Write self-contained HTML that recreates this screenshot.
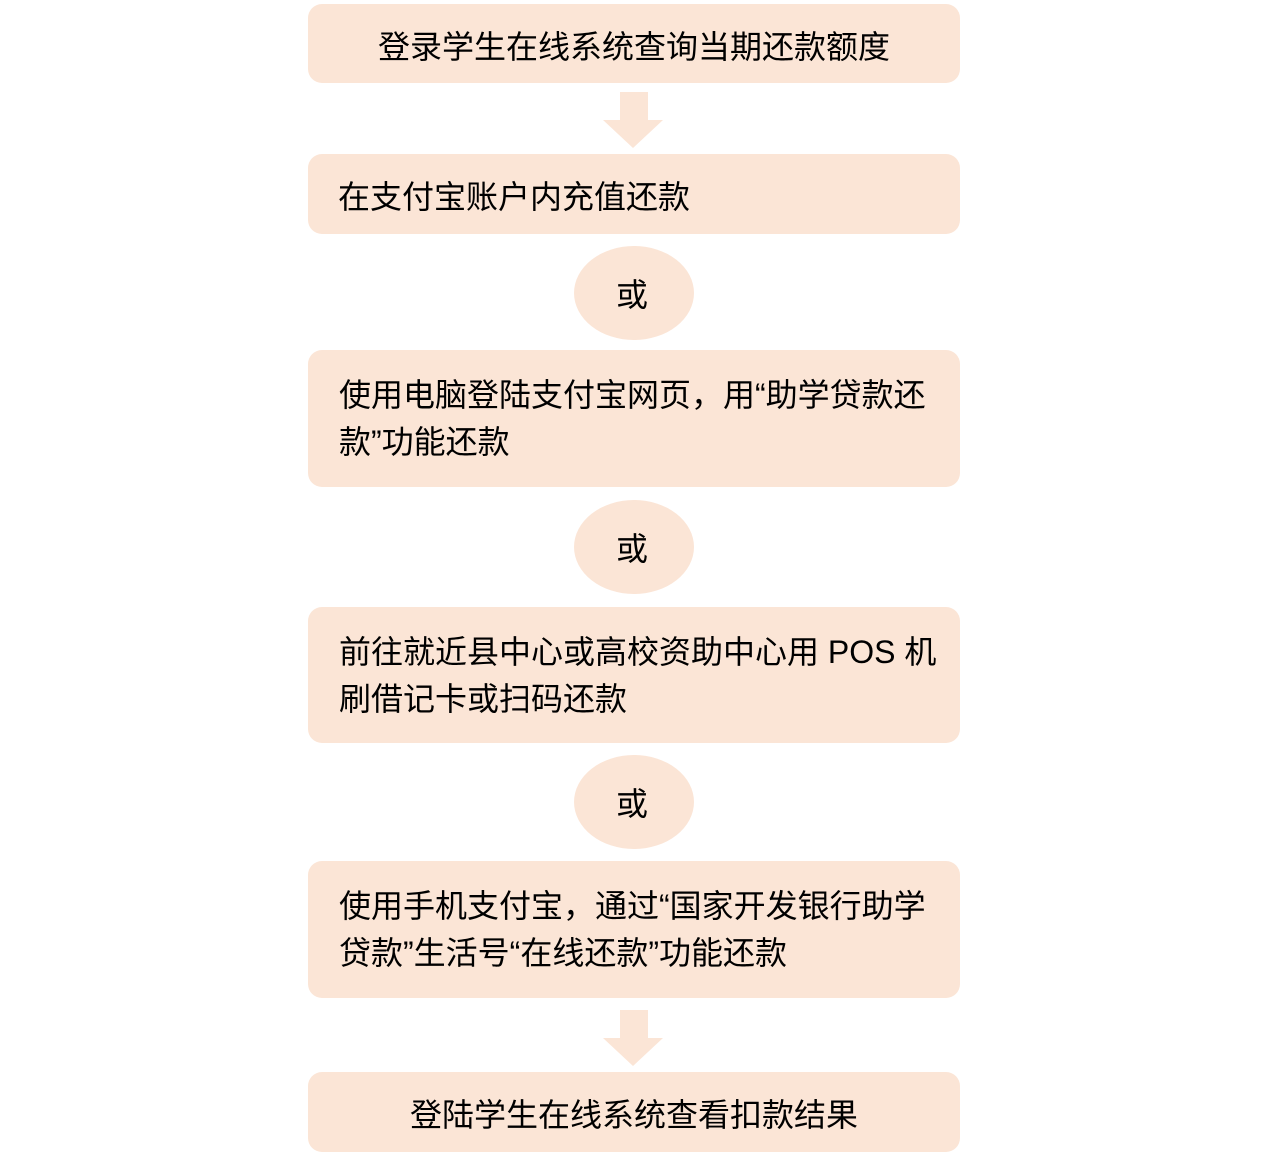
<!DOCTYPE html>
<html><head><meta charset="utf-8"><style>
body{margin:0;width:1269px;height:1155px;background:#fff;position:relative;font-family:"Liberation Sans","Noto Sans CJK SC",sans-serif;color:#000;overflow:hidden}
.b{position:absolute;left:308px;width:652px;background:#FBE5D6;border-radius:14px;font-size:32px;box-sizing:border-box;white-space:nowrap}
.c{text-align:center;display:flex;align-items:center;justify-content:center}
.l{padding:0 30px;display:flex;align-items:center}
.m{padding:22px 20px 0 338px;padding-left:31px;line-height:47px}
.e{position:absolute;left:574px;width:120px;height:94px;border-radius:50%;background:#FBE5D6;font-size:32px;display:flex;align-items:center;justify-content:center;text-indent:-4px}
</style></head><body>
<div class="b c" style="top:4px;height:79px;padding-top:2px">登录学生在线系统查询当期还款额度</div>
<svg style="position:absolute;left:0;top:0" width="1269" height="1155">
<polygon fill="#FBE5D6" points="620,92 648,92 648,120 663,120 633,148 603,120 620,120"/>
<polygon fill="#FBE5D6" points="620,1010 648,1010 648,1038 663,1038 633,1066 603,1038 620,1038"/>
</svg>
<div class="b l" style="top:154px;height:80px;padding-top:2px">在支付宝账户内充值还款</div>
<div class="e" style="top:246px">或</div>
<div class="b m" style="top:350px;height:137px">使用电脑登陆支付宝网页，用“助学贷款还<br>款”功能还款</div>
<div class="e" style="top:500px">或</div>
<div class="b m" style="top:607px;height:136px">前往就近县中心或高校资助中心用 POS 机<br>刷借记卡或扫码还款</div>
<div class="e" style="top:755px">或</div>
<div class="b m" style="top:861px;height:137px">使用手机支付宝，通过“国家开发银行助学<br>贷款”生活号“在线还款”功能还款</div>
<div class="b c" style="top:1072px;height:80px;padding-top:2px">登陆学生在线系统查看扣款结果</div>
</body></html>
